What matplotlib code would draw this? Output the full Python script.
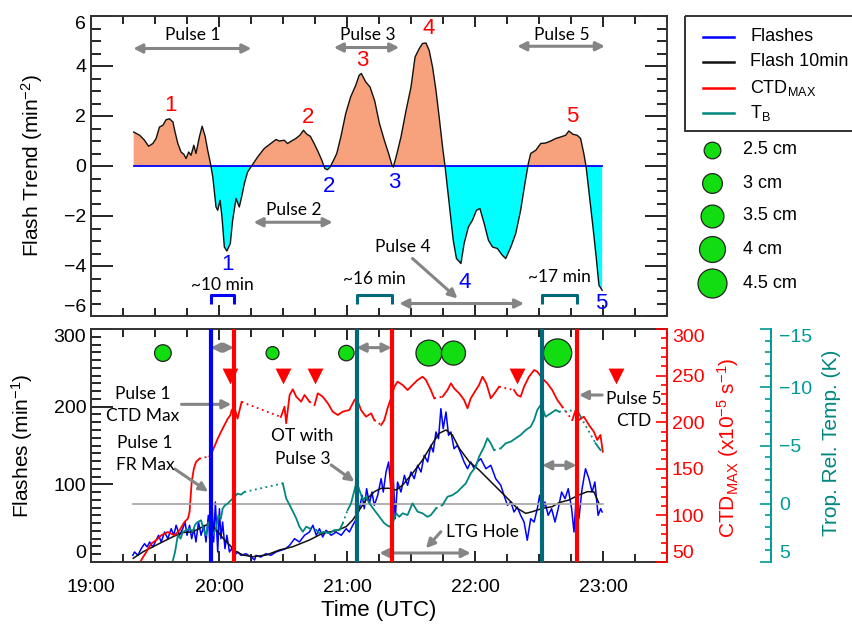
import numpy as np
import matplotlib.pyplot as plt
from matplotlib.ticker import MultipleLocator, FuncFormatter
from matplotlib.patches import Rectangle

# ---- data (time in minutes after 19:00 UTC) ----
TREND_MIN = [20, 22.8, 25.1, 27, 29, 30.5, 32.1, 33.7, 35.2, 36.8, 38.4, 39.4, 40.7, 42.2, 43.5, 44.6,
             45.8, 46.9, 48.2, 49.2, 50.8, 52.1, 53.5, 54.7, 56, 57.1, 58.6, 59.4, 60.5, 61.4, 62.5, 63.7,
             65.3, 66.4, 68, 69.5, 70.6, 71.9, 73.4, 75.8, 78.1, 81.2, 84.3, 86.7, 88.3, 90.6, 92.1, 94,
             96, 97.9, 99.6, 101.2, 102.8, 104.6, 106.5, 108.2, 109.6, 110.8, 112.1, 113.7, 115.2, 117.1,
             119.4, 121.7, 124.1, 125.7, 126.7, 128.8, 130.8, 133, 135.2, 137.5, 139.5, 141.1, 141.7, 143,
             145.3, 147.7, 150, 151.9, 153.9, 155.4, 157, 158.5, 160.1, 161.7, 163.2, 164.8, 166, 167.9,
             169.8, 171.3, 173.4, 174.9, 176.9, 178.8, 180.7, 182.3, 184.3, 186.3, 188.2, 190.5, 192.8,
             194.4, 196.8, 199.1, 201.4, 203.4, 205, 206.1, 208.5, 210.8, 213.1, 215.5, 217.8, 220.1,
             222.5, 224, 225.9, 227.9, 229.5, 231, 232.1, 233.7, 235.3, 236.8, 238.1, 239.6]
TREND = [1.36, 1.23, 1.03, 0.79, 0.9, 1.1, 1.56, 1.63, 1.85, 1.89, 1.76, 1.36, 0.9, 0.56, 0.47, 0.3,
         0.56, 0.43, 0.83, 0.5, 1.16, 1.59, 1.19, 0.63, 0.1, -0.44, -1.64, -1.77, -1.37, -2.04, -3.24, -3.4,
         -3.1, -2.17, -1.3, -1.64, -1.24, -0.7, -0.24, 0.07, 0.36, 0.7, 0.9, 1.06, 1.0, 1.03, 0.9, 1.0,
         1.1, 1.23, 1.43, 1.27, 1.19, 0.9, 0.56, 0.23, -0.1, -0.15, -0.04, 0.23, 0.5, 1.16,
         2.1, 2.76, 3.23, 3.63, 3.7, 3.36, 3.16, 2.6, 1.7, 1.03, 0.5, 0.03, -0.04, 0.36,
         1.16, 2.23, 3.16, 4.36, 4.7, 4.9, 4.92, 4.63, 3.96, 3.03, 1.96, 0.76, -0.04, -1.5,
         -2.97, -3.7, -3.9, -3.1, -2.44, -2.17, -1.77, -1.7, -2.3, -2.97, -3.24, -3.3, -3.57,
         -3.7, -3.24, -2.7, -1.77, -0.7, 0.1, 0.5, 0.63, 0.9, 0.92, 1.0, 1.1, 1.16,
         1.23, 1.4, 1.27, 1.23, 1.1, 0.5, -0.04, -1.24, -2.44, -3.64, -4.77, -4.97]

FLASH_MIN = [19.6, 20.4, 22, 23.5, 25.1, 26.3, 27.5, 29, 30.5, 31.7, 32.9, 34.5, 36, 37.6, 38.8, 39.9,
             41.5, 43, 44.1, 45, 46.2, 47.2, 48.2, 49.2, 50.4, 51.6, 52.9, 53.9, 55, 56, 56.6, 57.5,
             58.3, 59.4, 60.2, 60.9, 61.7, 62.8, 63.7, 64.9, 65.9, 67.2, 68.8, 70.3, 72.6, 75, 76.7,
             77.3, 79.6, 82, 84.3, 86.7, 89, 91.3, 93.1, 95.4, 97.7, 100.1, 102.4, 104, 105.6, 107.1,
             108.6, 110.2, 112.6, 114.9, 117.3, 119.6, 121.1, 122.7, 124.5, 125.8, 127.1, 128.1, 129.2,
             130.5, 131.7, 132.8, 134.4, 136, 137, 138.3, 139.5, 140.6, 141.7, 142.6, 143.7, 145.3,
             146.9, 148.4, 150, 151.5, 153.1, 154.7, 156.2, 157.8, 159.3, 160.4, 161.7, 162.9, 164,
             165.1, 166.4, 167.6, 168.7, 170.2, 171.8, 173.4, 174.9, 176.5, 178, 179.6, 181.1, 182.7,
             185.1, 187.4, 189.7, 192.1, 193.6, 195.2, 196.8, 198.3, 199.8, 201.4, 203, 204.5, 206.1,
             207.7, 209.2, 210.3, 211.5, 212.8, 214.3, 215.9, 217.5, 219, 220.6, 222.2, 223.7, 225.3,
             226.4, 227.4, 228.7, 230.2, 231.8, 233.4, 234.9, 236.2, 237.7, 238.9, 239.6]
FLASHES = [8.6, 12.9, 8.6, 17.1, 23.6, 19.3, 25.8, 19.3, 28, 34.4, 25.8, 38.6, 30, 42.9, 34.4, 47.3,
           34.4, 42.9, 51.5, 34.4, 47.3, 30, 42.9, 25.8, 51.5, 34.4, 47.3, 25.8, 60.1, 12.9, 85.9, 25.8,
           77.3, 12.9, 68.6, 30, 51.5, 17.1, 34.4, 12.9, 17.1, 8.6, 12.9, 8.6, 10.7, 6.4, 2.6,
           8.6, 6.4, 10.7, 8.6, 12.9, 15, 17.1, 21.5, 30, 25.8, 34.4, 38.6, 47.3, 34.4, 42.9,
           32.2, 40.8, 34.4, 38.6, 34.4, 42.9, 38.6, 47.3, 55.8, 68.6, 85.9, 68.6, 94.4,
           75.1, 90.1, 73, 85.9, 107.3, 90.1, 115.9, 128.8, 94.4, 107.3, 55.8, 103, 90.1,
           111.6, 98.7, 115.9, 107.3, 124.5, 115.9, 137.4, 128.8, 150.3, 141.6, 167.4, 158.8, 197.4,
           171.6, 193.1, 163.1, 167.4, 145.9, 150.3, 139.5, 128.8, 120.1, 128.8, 120.1, 128.8, 133,
           120.1, 124.5, 107.3, 98.7, 85.9, 73, 77.3, 64.4, 70.8, 60.1, 51.5, 28, 55.8,
           51.5, 68.6, 85.9, 64.4, 77.3, 60.1, 68.6, 51.5, 68.6, 90.1, 81.5, 94.4, 68.6,
           38.6, 81.5, 55.8, 94.4, 120.1, 107.3, 90.1, 103, 60.1, 68.6, 64.4]

F10_MIN = [19.8, 24.5, 30.7, 36.9, 42.4, 47.8, 52.5, 55.7, 58.8, 61.9, 65, 67.3, 71.2, 75.9, 82.2, 88.4,
           94.6, 102.4, 108.6, 114.9, 119.6, 122.7, 125.8, 128.9, 132.8, 136, 139.8, 143, 146.1, 150.7,
           155.4, 160.1, 163.2, 166.4, 169.4, 172.6, 177.3, 181.9, 186.6, 191.3, 196, 199.8, 203.8,
           206.9, 211.5, 216.2, 219.4, 224, 228.7, 232.6, 235.7, 238.1]
FLASH_10MIN = [4.8, 13.3, 21.9, 30.5, 37.7, 39, 45.5, 49.8, 41.2, 30.5, 21.9, 14.5, 9, 6.8, 9, 15.5,
               19.7, 28.3, 37, 40.3, 45.5, 54.1, 67, 79.8, 90.5, 94.9, 94.9, 92.7, 99.1, 114.2,
               131.3, 152.8, 165.7, 170, 163.5, 146.4, 129.1, 118.5, 105.6, 92.7, 79.8, 69.1, 62.6,
               64.8, 69.1, 71.2, 76.4, 79.8, 86.3, 90.5, 90.5, 75.6]

CTD_MIN = [23.5, 25.9, 28.2, 30.5, 32.9, 36, 39.1, 41.5, 43.8, 45.4, 46.2, 47.2, 48.2, 49.2, 50.8, 55.5,
           57.1, 59.4, 60.9, 62.5, 64.1, 65.3, 65.9, 67.2, 68.7, 70, 70.6, 89, 90.7, 91.5, 93.1, 94.6,
           96.2, 98.5, 100.1, 102.4, 104.8, 106.3, 108.6, 111, 113.3, 115.7, 118, 121.1, 123.5, 124.5,
           126.6, 128.9, 131.3, 132.8, 136, 137.5, 139, 140.6, 142.2, 143.7, 146.1, 148.4, 150.7,
           153.1, 155.4, 157, 159.3, 160.9, 164.8, 167.1, 168.7, 170.2, 172.6, 174.9, 176.5, 178,
           180.4, 181.9, 183.5, 185.3, 187.4, 189.7, 191.3, 198.3, 199.8, 201.4, 203, 205.3, 207.7,
           209.2, 211.5, 213.9, 216.2, 218.6, 220.9, 225.6, 227.2, 228.7, 231, 233.4, 235.7, 237.3,
           238.8, 239.9]
CTD_MAX = [51.8, 60.7, 69.6, 73.3, 78.6, 82.2, 78.6, 84, 92.9, 96.5, 103.6, 135.8, 150, 157.3, 160.8, 163.4,
           169.8, 182.3, 189.5, 196.7, 203.8, 207.4, 212.8, 216.3, 203.8, 216.3, 221.7, 205.6, 216.6, 198.8,
           229.2, 235.3, 227.4, 222, 229.2, 222, 218.5, 231, 227.4, 220.3, 211.3, 207.7, 211.3, 213.1,
           223.8, 225.6, 213, 205.9, 209.5, 202.3, 197, 202.3, 214.9, 225.6, 238.1, 243.5, 239.9, 234.5,
           239.9, 245.3, 248.8, 245.3, 234.5, 225.6, 227.4, 234.5, 241.7, 236.3, 230.9, 223.8, 214.9,
           225.6, 234.5, 239.9, 248.8, 241.7, 225.6, 232.7, 238.1, 234.5, 229.2, 227.4, 238.1, 248.8,
           256, 254.2, 247.1, 241.7, 234.5, 223.8, 216.6, 202.3, 213.1, 202.3, 205.9, 197, 189.8,
           180.9, 186.3, 168.3]
CTD_GAP_START = [50.8, 70.6, 102.4, 132.8, 160.9, 191.3, 220.9]

TB_MIN = [38.4, 39.4, 40.7, 42, 43, 44.6, 46.2, 47.7, 48.8, 50, 51.6, 52.9, 53.9, 55, 57.1, 58.6, 59.7,
          60.9, 61.7, 62.8, 64, 65.6, 67.2, 68.7, 70.3, 71.9, 89.9, 91.5, 93.9, 96.2, 97.7, 99.3, 100.9,
          102.4, 105.6, 107.1, 109.4, 111.8, 114.1, 116.5, 118, 120.3, 121.9, 123.5, 124.5, 125.8, 127.4,
          128.9, 130.5, 132.8, 135.2, 137.5, 139.8, 141.4, 143, 144.5, 146.1, 148.4, 150.7, 153.1,
          155.4, 157.7, 159.3, 161.7, 164.8, 167.1, 169.4, 171.8, 174.1, 175.7, 178, 180.4, 181.9,
          184.3, 185.8, 187.4, 188.9, 192.1, 194.4, 196.8, 199.1, 201.4, 203.8, 206.1, 207.7, 209.2,
          210.8, 211.9, 213.1, 215.5, 217.8, 219.4, 227.9, 229.5, 236.5, 238.8]
TB = [4.85, 4.14, 2.7, 3.0, 2.43, 2.28, 2.14, 2.37, 1.8, 1.57, 1.42, 2.28, 2.71, 1.57, 2.71, 2.14, 0.99,
      1.28, 0.42, 0.13, -0.01, -0.3, -0.58, -0.87, -0.78, -1.01, -1.75, -0.46, 0.4, 1.25, 1.97, 2.4, 1.97,
      2.11, 2.26, 2.54, 2.4, 2.54, 2.26, 2.26, 1.68, 0.54, -0.03, -1.18, -1.89, -1.18, -0.32,
      -0.6, -0.03, 0.54, 1.12, 1.68, 1.97, 1.68, 0.82, 1.12, 0.82, 0.97, -0.03, 0.68,
      0.82, 1.12, 0.97, 0.4, 0.11, -0.6, -0.74, -1.03, -1.46, -1.75, -2.61, -3.18, -4.04,
      -4.9, -5.62, -5.19, -4.61, -4.76, -5.19, -5.33, -5.62, -5.9, -6.33, -6.61, -7.19, -8.05,
      -8.48, -8.05, -7.47, -7.76, -8.05, -7.9, -8.05, -7.47, -5.19, -4.61]
TB_GAP_START = [71.9, 102.4, 118, 161.7, 188.9, 219.4, 229.5]

# event lines: (minute, kind)
EVENT_MIN = [56.1, 67.0, 124.5, 140.9, 211.5, 227.6]
EVENT_KIND = ['flash', 'ctd', 'tb', 'ctd', 'tb', 'ctd']

HAIL_MIN = [33.7, 85.1, 119.7, 158.4, 169.9, 218.7]
HAIL_CM = [2.5, 1.9, 2.3, 4.0, 3.7, 4.4]
TRI_MIN = [65.3, 89.8, 105.2, 199.9, 245.9]

HAIL_LEGEND = [2.5, 3, 3.5, 4, 4.5]
LEGEND_LABELS = ['Flashes', 'Flash 10min', r'CTD$_{\mathrm{MAX}}$', r'T$_{\mathrm{B}}$']

# ---- styling ----
BLUE = '#0000ff'
RED = '#ff0000'
TEAL = '#00877f'
TEAL_AX = '#009a96'
TEAL_LINE = '#00697a'
ORANGE = '#f7a27c'
CYAN = '#00ffff'
GRAY = '#858585'
GREEN = '#11dd11'
ANNO = 'Lato'

plt.rcParams['font.family'] = ['Liberation Sans', 'DejaVu Sans']
plt.rcParams['mathtext.fontset'] = 'custom'
plt.rcParams['mathtext.rm'] = 'Liberation Sans'
plt.rcParams['mathtext.it'] = 'Liberation Sans:italic'
plt.rcParams['mathtext.bf'] = 'Liberation Sans:bold'

W, H = 852, 627


def hrs(m):
    return 19 + np.asarray(m, dtype=float) / 60.0


def hail_pt(cm):
    return (6.15 * np.asarray(cm) + 1.3) * 0.72


def gap_series(t, v, gap_start):
    xs, ys, dots = [], [], []
    for i in range(len(t)):
        xs.append(t[i]); ys.append(v[i])
        if i < len(t) - 1 and any(abs(t[i] - g) < 1e-6 for g in gap_start):
            xs.append(np.nan); ys.append(np.nan)
            dots.append(([t[i], t[i + 1]], [v[i], v[i + 1]]))
    return hrs(xs), np.array(ys), dots


fig = plt.figure(figsize=(W / 100, H / 100), dpi=100)
ax1 = fig.add_axes([91 / W, 1 - 316 / H, 576 / W, 300 / H])
ax2 = fig.add_axes([91 / W, 1 - 562 / H, 576 / W, 233 / H])

hour_fmt = FuncFormatter(lambda h, _: '%02d:00' % int(round(h)))
for ax in (ax1, ax2):
    ax.set_xlim(19, 23.5)
    ax.xaxis.set_major_locator(MultipleLocator(1))
    ax.xaxis.set_minor_locator(MultipleLocator(0.25))
    ax.xaxis.set_major_formatter(hour_fmt)
    ax.tick_params(axis='x', which='both', direction='in', top=True, bottom=True, width=1.2)
    ax.tick_params(axis='x', which='major', length=8)
    ax.tick_params(axis='x', which='minor', length=6)
    for s in ax.spines.values():
        s.set_linewidth(1.4)
        s.set_color('#333333')

# ---- top panel: flash trend ----
tt = hrs(TREND_MIN)
tr = np.array(TREND)
ax1.fill_between(tt, tr, 0, where=tr >= 0, interpolate=True, color=ORANGE, lw=0, zorder=1)
ax1.fill_between(tt, tr, 0, where=tr <= 0, interpolate=True, color=CYAN, lw=0, zorder=1)
ax1.plot([tt[0], tt[-1]], [0, 0], color=BLUE, lw=1.3, zorder=2)
ax1.plot(tt, tr, color='#111111', lw=1.0, zorder=3)
ax1.set_ylim(-6, 6)
ax1.yaxis.set_major_locator(MultipleLocator(2))
ax1.yaxis.set_minor_locator(MultipleLocator(0.5))
ax1.tick_params(axis='y', which='both', direction='in', left=True, right=True, width=1.2, labelsize=14)
ax1.tick_params(axis='y', which='major', length=16)
ax1.tick_params(axis='y', which='minor', length=7)
ax1.tick_params(axis='x', labelbottom=False)
ax1.set_ylabel('Flash Trend (min$^{-2}$)', fontsize=15)
ax1.yaxis.set_label_coords(-0.08, 0.5)


def garrow(ax, x0, y0, x1, y1, both=False, **kw):
    ax.annotate('', xy=(x1, y1), xytext=(x0, y0),
                arrowprops=dict(arrowstyle='<|-|>' if both else '-|>', color=GRAY, lw=2.2,
                                mutation_scale=13, shrinkA=0, shrinkB=0), **kw)


# pulse labels with double arrows
for lbl, xm, a0, a1, ty, ay in [('Pulse 1', 47.6, 19.8, 75.2, 5.23, 4.7),
                                ('Pulse 3', 129.7, 113.8, 144.5, 5.26, 4.74),
                                ('Pulse 5', 220.9, 199.8, 240.9, 5.23, 4.79),
                                ('Pulse 2', 94.9, 76.2, 113.3, -1.77, -2.25)]:
    ax1.text(hrs(xm), ty, lbl, ha='center', va='center', fontsize=12.5, family=ANNO)
    garrow(ax1, hrs(a0), ay, hrs(a1), ay, both=True)
ax1.text(hrs(146.1), -3.26, 'Pulse 4', ha='center', va='center', fontsize=12.5, family=ANNO)
garrow(ax1, hrs(150.7), -3.7, hrs(171.8), -5.3)
garrow(ax1, hrs(144.5), -5.5, hrs(203), -5.5, both=True)

for n, xm, y in [('1', 37.3, 2.43), ('2', 101.6, 1.94), ('3', 127.4, 4.23), ('4', 158.5, 5.5), ('5', 225.6, 1.96)]:
    ax1.text(hrs(xm), y, n, color=RED, ha='center', va='center', fontsize=16)
for n, xm, y in [('1', 64.2, -3.95), ('2', 111.8, -0.84), ('3', 142.2, -0.64), ('4', 175.2, -4.68), ('5', 239.1, -5.5)]:
    ax1.text(hrs(xm), y, n, color=BLUE, ha='center', va='center', fontsize=16)

# brackets between event lines
for (i0, i1), col, lbl, ty in [((0, 1), BLUE, '~10 min', -4.78), ((2, 3), TEAL_LINE, '~16 min', -4.5),
                               ((4, 5), TEAL_LINE, '~17 min', -4.42)]:
    x0, x1 = hrs(EVENT_MIN[i0]), hrs(EVENT_MIN[i1])
    ax1.plot([x0, x0, x1, x1], [-5.5, -5.17, -5.17, -5.5], color=col, lw=2.2, solid_capstyle='butt')
    ax1.text((x0 + x1) / 2, ty, lbl, ha='center', va='center', fontsize=12.5, family=ANNO)

# ---- bottom panel ----
ax2.plot(hrs(FLASH_MIN), FLASHES, color=BLUE, lw=1.1, zorder=2)
ax2.plot(hrs(F10_MIN), FLASH_10MIN, color='#111111', lw=1.1, zorder=3)
ax2.set_ylim(0, 300)
ax2.yaxis.set_major_locator(MultipleLocator(100))
ax2.yaxis.set_minor_locator(MultipleLocator(10))
ax2.tick_params(axis='y', which='both', direction='in', left=True, right=False, width=1.2, labelsize=14)
ax2.tick_params(axis='y', which='major', length=16)
ax2.tick_params(axis='y', which='minor', length=7)
ax2.tick_params(axis='x', labelsize=14, pad=12)
ax2.set_ylabel('Flashes (min$^{-1}$)', fontsize=15)
ax2.yaxis.set_label_coords(-0.097, 0.5)
ax2.set_xlabel('Time (UTC)', fontsize=16)
ax2.xaxis.set_label_coords(0.5, -0.165)
ax2.spines['right'].set_visible(False)

ax2.scatter(hrs(HAIL_MIN), [269] * len(HAIL_MIN), s=hail_pt(HAIL_CM) ** 2, color=GREEN,
            edgecolors='#222222', linewidths=0.9, zorder=5)
ax2.scatter(hrs(TRI_MIN), [240] * len(TRI_MIN), marker='v', s=130, color=RED, linewidths=0, zorder=5)

ax_ctd = ax2.twinx()
ax_ctd.set_ylim(50, 300)
ax_ctd.yaxis.set_major_locator(MultipleLocator(50))
ax_ctd.yaxis.set_minor_locator(MultipleLocator(10))
ax_ctd.tick_params(axis='y', which='both', direction='in', colors=RED, width=1.2, labelsize=14)
ax_ctd.tick_params(axis='y', which='major', length=8)
ax_ctd.tick_params(axis='y', which='minor', length=4)
for k in ('left', 'top', 'bottom'):
    ax_ctd.spines[k].set_visible(False)
ax_ctd.spines['right'].set_color(RED)
ax_ctd.spines['right'].set_linewidth(1.4)
ax_ctd.set_ylabel(r'CTD$_{\mathrm{MAX}}$ (x10$^{-5}$ s$^{-1}$)', color=RED, fontsize=15)
ax_ctd.yaxis.set_label_coords(1.083, 0.49)
cx, cy, cdots = gap_series(CTD_MIN, CTD_MAX, CTD_GAP_START)
ax_ctd.plot(cx, cy, color=RED, lw=1.3)
for dx, dy in cdots:
    ax_ctd.plot(hrs(dx), dy, color=RED, lw=1.3, ls=(0, (1, 2)))

ax_tb = ax2.twinx()
ax_tb.spines['right'].set_position(('axes', 1 + 104 / 576))
ax_tb.set_ylim(5, -15)
ax_tb.yaxis.set_major_locator(MultipleLocator(5))
ax_tb.yaxis.set_minor_locator(MultipleLocator(1))
ax_tb.tick_params(axis='y', which='both', direction='in', colors=TEAL_AX, width=1.2, labelsize=14, pad=6)
ax_tb.tick_params(axis='y', which='major', length=8)
ax_tb.tick_params(axis='y', which='minor', length=4)
for k in ('left', 'top', 'bottom'):
    ax_tb.spines[k].set_visible(False)
ax_tb.spines['right'].set_color(TEAL_AX)
ax_tb.spines['right'].set_linewidth(1.4)
ax_tb.set_ylabel('Trop. Rel. Temp. (K)', color=TEAL, fontsize=15)
ax_tb.yaxis.set_label_coords(1.269, 0.51)
ax_tb.plot(hrs([F10_MIN[0], 240]), [0, 0], color='#aaaaaa', lw=1.3, zorder=1)
bx, by, bdots = gap_series(TB_MIN, TB, TB_GAP_START)
ax_tb.plot(bx, by, color=TEAL, lw=1.3, zorder=2)
for dx, dy in bdots:
    ax_tb.plot(hrs(dx), dy, color=TEAL, lw=1.3, ls=(0, (1, 2)), zorder=2)

kind_color = {'flash': BLUE, 'ctd': RED, 'tb': TEAL_LINE}
for m, k in zip(EVENT_MIN, EVENT_KIND):
    ax_tb.axvline(hrs(m), color=kind_color[k], lw=3, zorder=4)

# bottom panel annotations (in flash units)
td = ax2.transData
for x0, x1, y in [(EVENT_MIN[0], EVENT_MIN[1], 276), (EVENT_MIN[2], EVENT_MIN[3], 276),
                  (EVENT_MIN[4], EVENT_MIN[5], 124.5), (135.2, 178, 11.6)]:
    garrow(ax_tb, hrs(x0), y, hrs(x1), y, both=True, xycoords=td, textcoords=td)
garrow(ax_tb, hrs(42.4), 203, hrs(65.8), 203, xycoords=td, textcoords=td)
garrow(ax_tb, hrs(39.3), 119.7, hrs(54.9), 90.5, xycoords=td, textcoords=td)
garrow(ax_tb, hrs(112.6), 124.9, hrs(123.5), 103.4, xycoords=td, textcoords=td)
garrow(ax_tb, hrs(239.6), 215, hrs(228.7), 215, xycoords=td, textcoords=td)
garrow(ax_tb, hrs(164), 39, hrs(157), 17.6, xycoords=td, textcoords=td)
for lbl, xm, y in [('Pulse 1\nCTD Max', 24.3, 202), ('Pulse 1\nFR Max', 25.3, 139),
                   ('OT with\nPulse 3', 99.2, 147.4), ('Pulse 5\nCTD', 254.4, 195.7),
                   ('LTG Hole', 183.5, 39)]:
    ax_tb.text(hrs(xm), y, lbl, transform=td, ha='center', va='center', fontsize=12.5,
               family=ANNO, linespacing=1.5, zorder=6)

# ---- legend (figure pixel coordinates) ----
leg = fig.add_axes([0, 0, 1, 1])
leg.set_xlim(0, W)
leg.set_ylim(H, 0)
leg.axis('off')
leg.add_patch(Rectangle((685, 16), 220, 115, fill=False, lw=1.4, ec='#333333', clip_on=False))
for lbl, col, y in zip(LEGEND_LABELS, [BLUE, '#111111', RED, TEAL], [36.7, 61.7, 88, 113]):
    leg.plot([703, 734], [y, y], color=col, lw=1.8)
    leg.text(750, y, lbl, ha='left', va='center', fontsize=13)
for cm, y in zip(HAIL_LEGEND, [150, 183, 216, 249, 283]):
    leg.scatter([712.3], [y], s=hail_pt(cm) ** 2, color=GREEN, edgecolors='#222222', linewidths=0.9)
    leg.text(743, y, '%g cm' % cm, ha='left', va='center', fontsize=13)

# end tick labels sit inside the axis span, as in the original
fig.canvas.draw()
for axis, lo, hi in [(ax1.yaxis, -6, 6), (ax2.yaxis, 0, 300), (ax_ctd.yaxis, 50, 300), (ax_tb.yaxis, 5, -15)]:
    for tick in axis.get_major_ticks():
        loc = tick.get_loc()
        for lab in (tick.label1, tick.label2):
            if np.isclose(loc, hi):
                lab.set_verticalalignment('top')
            elif np.isclose(loc, lo):
                lab.set_verticalalignment('bottom')

fig.savefig('out.png', dpi=100)
